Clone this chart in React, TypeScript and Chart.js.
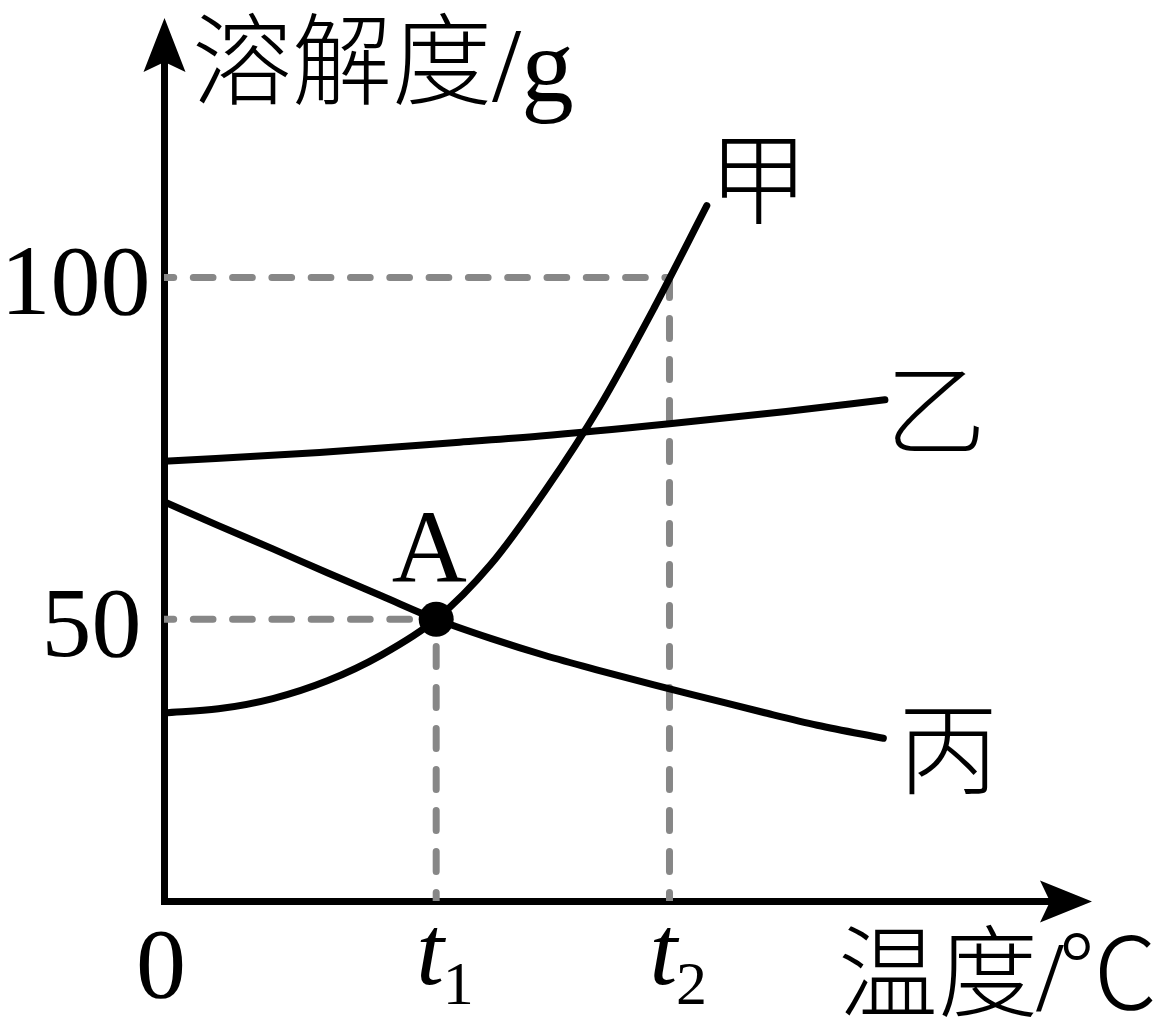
import React, { useEffect, useRef } from "react";
import { Chart, registerables } from "chart.js";

Chart.register(...registerables);

// ---- data (temperature in arbitrary units, solubility in g) ----
const JIA_T = [0, 7, 14, 21, 28, 35, 42, 49, 56, 63, 69.8];
const JIA_S = [36.3, 36.9, 38.4, 41.0, 44.8, 50, 58.0, 68.8, 81.1, 95.5, 110.5];

const YI_T = [0, 20, 38, 48.4, 65, 80, 92.7];
const YI_S = [73.1, 74.4, 75.9, 76.8, 78.6, 80.4, 82.1];

const BING_T = [0, 7, 14, 21, 28, 35, 42, 49, 56, 63, 70, 77, 84, 92.5];
const BING_S = [67.2, 63.7, 60.3, 56.8, 53.4, 50, 47.2, 44.7, 42.5, 40.4, 38.4, 36.4, 34.5, 32.6];

const POINT_A_T = 35;
const POINT_A_S = 50;
const GUIDE_T2 = 65;
const GUIDE_S100 = 100;

const X_TICKS = [0, 35, 65];
const X_TICK_MAIN = ["0", "t", "t"];
const X_TICK_SUB = ["", "1", "2"];
const Y_TICKS = [50, 100];
const Y_TICK_LABELS = ["50", "100"];

const SERIES_NAMES = ["甲", "乙", "丙"];
const POINT_LABEL = "A";
const Y_TITLE_CJK = "溶解度";
const Y_TITLE_UNIT = "/g";
const X_TITLE_CJK = "温度";
const X_TITLE_SLASH = "/";
const X_TITLE_UNIT = "℃";

const X_MIN = 0;
const X_MAX = 113.93;
const Y_MIN = 8.79;
const Y_MAX = 131.52;

// ---- styles ----
const SERIF = '"Liberation Serif", "Times New Roman", serif';
const CJK = '"Noto Sans CJK SC", "Noto Sans CJK JP", sans-serif';
const CJK_WEIGHT = "300";
const GRAY = "#878787";

const pts = (xs: number[], ys: number[]) => xs.map((x, i) => ({ x, y: ys[i] }));

const overlay = {
  id: "overlay",
  afterDraw(chart: any) {
    const { ctx, chartArea: ca, scales } = chart;
    const xs = scales.x;
    const ys = scales.y;
    const ax = xs.getPixelForValue(0) + 0.5;
    const ay = ys.getPixelForValue(Y_MIN) + 0.5;
    ctx.save();
    ctx.fillStyle = "#000";

    // arrow heads
    ctx.beginPath();
    ctx.moveTo(ax, ca.top - 44);
    ctx.lineTo(ax + 21, ca.top + 10);
    ctx.lineTo(ax, ca.top);
    ctx.lineTo(ax - 21, ca.top + 10);
    ctx.closePath();
    ctx.fill();

    ctx.beginPath();
    ctx.moveTo(ca.right + 42, ay);
    ctx.lineTo(ca.right - 10, ay - 21);
    ctx.lineTo(ca.right, ay);
    ctx.lineTo(ca.right - 10, ay + 21);
    ctx.closePath();
    ctx.fill();

    // y tick labels
    ctx.textBaseline = "alphabetic";
    ctx.textAlign = "right";
    ctx.font = `100px ${SERIF}`;
    const yRight = [ax - 23, ax - 14];
    Y_TICKS.forEach((v, i) => {
      const py = ys.getPixelForValue(v);
      ctx.fillText(Y_TICK_LABELS[i], yRight[i], py + 37);
    });

    // x tick labels
    X_TICKS.forEach((v, i) => {
      const px = xs.getPixelForValue(v);
      if (!X_TICK_SUB[i]) {
        ctx.textAlign = "center";
        ctx.font = `100px ${SERIF}`;
        ctx.fillText(X_TICK_MAIN[i], px - 3, 997);
      } else {
        ctx.textAlign = "left";
        ctx.font = `italic 100px ${SERIF}`;
        ctx.fillText(X_TICK_MAIN[i], px - 20, 984);
        ctx.font = `62px ${SERIF}`;
        ctx.fillText(X_TICK_SUB[i], px + 6.5, 1004);
      }
    });

    // axis titles
    ctx.textAlign = "left";
    ctx.font = `${CJK_WEIGHT} 100px ${CJK}`;
    const tx = ca.left + 28;
    ctx.fillText(Y_TITLE_CJK, tx, 97);
    const w1 = ctx.measureText(Y_TITLE_CJK).width;
    ctx.font = `105px ${SERIF}`;
    ctx.fillText(Y_TITLE_UNIT, tx + w1, 101);

    ctx.font = `${CJK_WEIGHT} 100px ${CJK}`;
    ctx.fillText(X_TITLE_CJK, 838, 1009);
    const w2 = ctx.measureText(X_TITLE_CJK).width;
    ctx.font = `100px ${SERIF}`;
    ctx.fillText(X_TITLE_SLASH, 838 + w2 - 2, 1010);
    ctx.font = `${CJK_WEIGHT} 100px ${CJK}`;
    ctx.textAlign = "right";
    ctx.fillText(X_TITLE_UNIT, 1158, 1009);

    // series labels, anchored at each curve's last point
    const ends = [
      [JIA_T[JIA_T.length - 1], JIA_S[JIA_S.length - 1], 52, -28],
      [YI_T[YI_T.length - 1], YI_S[YI_S.length - 1], 51, 9],
      [BING_T[BING_T.length - 1], BING_S[BING_S.length - 1], 65, 10],
    ];
    ctx.textAlign = "center";
    ctx.textBaseline = "middle";
    ctx.font = `${CJK_WEIGHT} 100px ${CJK}`;
    ends.forEach(([t, s, dx, dy], i) => {
      ctx.fillText(SERIES_NAMES[i], xs.getPixelForValue(t) + dx, ys.getPixelForValue(s) + dy);
    });

    // point label
    ctx.textBaseline = "alphabetic";
    ctx.font = `104px ${SERIF}`;
    ctx.fillText(POINT_LABEL, xs.getPixelForValue(POINT_A_T) - 7, ys.getPixelForValue(POINT_A_S) - 37);

    ctx.restore();
  },
};

const curve = (data: any[]) => ({
  data,
  borderColor: "#000",
  borderWidth: 7,
  borderCapStyle: "round",
  borderJoinStyle: "round",
  pointRadius: 0,
  cubicInterpolationMode: "monotone",
  fill: false,
});

const hGuide = (data: any[]) => ({
  data,
  borderColor: GRAY,
  borderWidth: 7,
  borderDash: [19.7, 19.6],
  borderDashOffset: 10,
  borderCapStyle: "round",
  pointRadius: 0,
  tension: 0,
  fill: false,
});

const vGuide = (data: any[]) => ({
  data,
  borderColor: GRAY,
  borderWidth: 7,
  borderDash: [20, 21],
  borderDashOffset: 11.5,
  borderCapStyle: "round",
  pointRadius: 0,
  tension: 0,
  fill: false,
});

export default function App() {
  const ref = useRef<HTMLCanvasElement | null>(null);

  useEffect(() => {
    if (!ref.current) return;
    const chart = new Chart(ref.current, {
      type: "line",
      data: {
        datasets: [
          {
            data: [{ x: POINT_A_T, y: POINT_A_S }],
            showLine: false,
            pointRadius: 17.5,
            pointBackgroundColor: "#000",
            pointBorderColor: "#000",
            pointBorderWidth: 0,
          } as any,
          curve(pts(JIA_T, JIA_S)),
          curve(pts(YI_T, YI_S)),
          curve(pts(BING_T, BING_S)),
          hGuide([
            { x: 0, y: POINT_A_S },
            { x: POINT_A_T, y: POINT_A_S },
          ]),
          vGuide([
            { x: POINT_A_T, y: Y_MIN },
            { x: POINT_A_T, y: POINT_A_S },
          ]),
          hGuide([
            { x: 0, y: GUIDE_S100 },
            { x: GUIDE_T2, y: GUIDE_S100 },
          ]),
          vGuide([
            { x: GUIDE_T2, y: Y_MIN },
            { x: GUIDE_T2, y: GUIDE_S100 },
          ]),
        ] as any,
      },
      options: {
        responsive: false,
        animation: false,
        devicePixelRatio: 1,
        events: [],
        layout: { padding: { top: 62, right: 111, left: 0, bottom: 0 } },
        plugins: { legend: { display: false }, tooltip: { enabled: false } },
        scales: {
          x: {
            type: "linear",
            min: X_MIN,
            max: X_MAX,
            grid: { display: false, drawTicks: false },
            ticks: { display: false },
            border: { display: true, color: "#000", width: 7 },
            afterFit: (s: any) => {
              s.height = 127;
            },
          },
          y: {
            type: "linear",
            min: Y_MIN,
            max: Y_MAX,
            grid: { display: false, drawTicks: false },
            ticks: { display: false },
            border: { display: true, color: "#000", width: 7 },
            afterFit: (s: any) => {
              s.width = 164;
            },
          },
        },
      } as any,
      plugins: [overlay],
    });
    return () => chart.destroy();
  }, []);

  return (
    <div style={{ position: "absolute", left: 0, top: 0, width: 1161, height: 1028, background: "#fff" }}>
      <canvas ref={ref} width={1161} height={1028} style={{ display: "block" }} />
    </div>
  );
}
